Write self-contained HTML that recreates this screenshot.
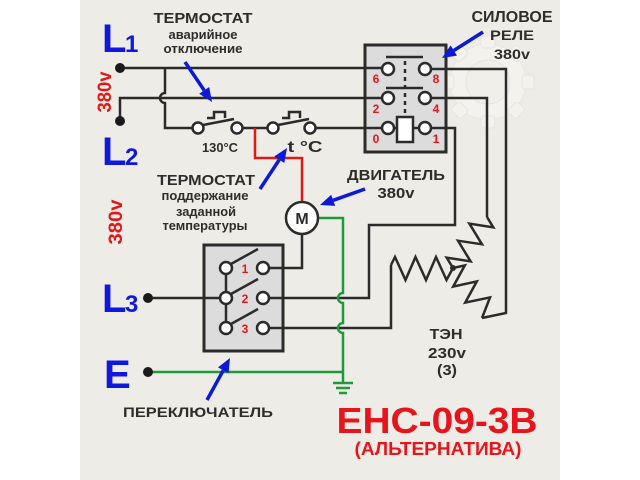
<!DOCTYPE html>
<html><head><meta charset="utf-8"><style>
html,body{margin:0;padding:0;background:#fff;}
svg{display:block;}
text{font-family:"Liberation Sans",Arial,sans-serif;font-weight:bold;}
</style></head><body>
<svg width="640" height="480" viewBox="0 0 640 480" xmlns="http://www.w3.org/2000/svg">
<rect x="0" y="0" width="640" height="480" fill="#ffffff"/>
<rect x="80" y="0" width="480" height="480" fill="#edece6"/>

<!-- gear watermark -->
<g fill="#f3f2ee" stroke="#e6e5de" stroke-width="1">
  <circle cx="488" cy="82" r="38"/>
  <g>
    <rect x="481" y="36" width="14" height="12" rx="3"/>
    <rect x="481" y="116" width="14" height="12" rx="3"/>
    <rect x="442" y="75" width="12" height="14" rx="3"/>
    <rect x="522" y="75" width="12" height="14" rx="3"/>
    <rect x="481" y="36" width="14" height="12" rx="3" transform="rotate(45 488 82)"/>
    <rect x="481" y="36" width="14" height="12" rx="3" transform="rotate(-45 488 82)"/>
    <rect x="481" y="36" width="14" height="12" rx="3" transform="rotate(135 488 82)"/>
    <rect x="481" y="36" width="14" height="12" rx="3" transform="rotate(-135 488 82)"/>
  </g>
  <circle cx="488" cy="82" r="22" fill="#f0efea"/>
</g>

<!-- black wires -->
<g fill="none" stroke="#2b2b2b" stroke-width="2.5" stroke-linejoin="miter">
  <path d="M120,68 H382"/>
  <path d="M120,121 V98 H382"/>
  <path d="M165,68 V93 A5,5 0 0 0 165,103 V128 H192"/>
  <path d="M243,128 H267"/>
  <path d="M316,128 H382"/>
  <!-- relay right side -->
  <path d="M431,69 H506 V313 L482,318"/>
  <path d="M431,98 H487 V217"/>
  <path d="M431,128 H455 V225 H369 V298 H269"/>
  <!-- switch -->
  <path d="M148,298 H220"/>
  <path d="M226,268 V328"/>
  <path d="M269,268 H302 V234"/>
  <path d="M269,328 H391 V265"/>
  <!-- heaters -->
  <path d="M391,265 L395,257 L405.5,280 L415.5,257 L426,280 L436,257 L446.5,280 L453,268"/>
  <path d="M487,217 L493.3,227.4 L469.4,223.6 L482,244.3 L458,240.7 L470.6,261.4 L446.7,257.6 L453,268"/>
  <path d="M453,268 L464.8,265.4 L453.2,286.6 L476.8,281.4 L465.2,302.6 L490,297.4 L482,318"/>
</g>
<circle cx="453" cy="268" r="3" fill="#2b2b2b"/>

<!-- red wire -->
<path d="M255,128 V158 H302 V202" fill="none" stroke="#e21818" stroke-width="2.5"/>

<!-- green wires -->
<g fill="none" stroke="#1e9a3c" stroke-width="2.5">
  <path d="M318,218 H343 V293 A5,5 0 0 0 343,303 V323 A5,5 0 0 0 343,333 V383"/>
  <path d="M148,372 H343"/>
  <path d="M333,383 H353 M336,388 H350 M339,393 H347"/>
</g>

<!-- terminal dots -->
<g fill="#1a1a1a">
  <circle cx="120" cy="68" r="5"/>
  <circle cx="120" cy="121" r="5"/>
  <circle cx="148" cy="298" r="5"/>
  <circle cx="148" cy="372" r="5"/>
</g>

<!-- thermostats -->
<g fill="none" stroke="#2b2b2b" stroke-width="2.5">
  <path d="M203,125 L234,119"/>
  <path d="M207,118 H214 V112 H225 V118"/>
  <path d="M278,125 L309,119"/>
  <path d="M282,118 H289 V112 H300 V118"/>
</g>
<g fill="#ffffff" stroke="#2b2b2b" stroke-width="2.5">
  <circle cx="198" cy="128" r="5.5"/>
  <circle cx="237" cy="128" r="5.5"/>
  <circle cx="273" cy="128" r="5.5"/>
  <circle cx="310" cy="128" r="5.5"/>
</g>

<!-- relay box -->
<rect x="365" y="45" width="81" height="107" fill="#dcdcdc" stroke="#2b2b2b" stroke-width="3"/>
<g fill="none" stroke="#2b2b2b" stroke-width="2.5">
  <path d="M365,68 H382 M365,98 H382 M365,128 H382"/>
  <path d="M386,57 H423 M386,88 H423"/>
  <path d="M405,61 V113" stroke-dasharray="4,4"/>
  <path d="M394,128 H397 M413,128 H419"/>
  <path d="M431,69 H446 M431,98 H446 M431,128 H446"/>
</g>
<rect x="397" y="117" width="16" height="25" fill="#ffffff" stroke="#2b2b2b" stroke-width="2.5"/>
<g fill="#ffffff" stroke="#2b2b2b" stroke-width="2.5">
  <circle cx="388" cy="69" r="6"/>
  <circle cx="425" cy="69" r="6"/>
  <circle cx="388" cy="98" r="6"/>
  <circle cx="425" cy="98" r="6"/>
  <circle cx="388" cy="128" r="6"/>
  <circle cx="425" cy="128" r="6"/>
</g>
<g fill="#e01818" font-size="12" text-anchor="middle">
  <text x="376" y="83">6</text>
  <text x="436" y="83">8</text>
  <text x="376" y="113">2</text>
  <text x="436" y="113">4</text>
  <text x="376" y="143">0</text>
  <text x="436" y="143">1</text>
</g>

<!-- switch box -->
<rect x="204" y="245" width="79" height="106" fill="#dcdcdc" stroke="#2b2b2b" stroke-width="3"/>
<g fill="none" stroke="#2b2b2b" stroke-width="2.5">
  <path d="M204,298 H220"/>
  <path d="M226,268 V328"/>
  <path d="M231,264 L258,249 M231,294 L258,279 M231,324 L258,309"/>
  <path d="M269,268 H283 M269,298 H283 M269,328 H283"/>
</g>
<g fill="#ffffff" stroke="#2b2b2b" stroke-width="2.5">
  <circle cx="226" cy="268" r="6"/>
  <circle cx="263" cy="268" r="6"/>
  <circle cx="226" cy="298" r="6"/>
  <circle cx="263" cy="298" r="6"/>
  <circle cx="226" cy="328" r="6"/>
  <circle cx="263" cy="328" r="6"/>
</g>
<g fill="#e01818" font-size="12" text-anchor="middle">
  <text x="245" y="273">1</text>
  <text x="245" y="303">2</text>
  <text x="245" y="333">3</text>
</g>

<!-- motor -->
<circle cx="302" cy="218" r="16" fill="#ffffff" stroke="#2b2b2b" stroke-width="2.5"/>
<text x="302" y="224" font-size="16" text-anchor="middle" fill="#2b2b2b">M</text>

<!-- blue arrows -->
<g stroke="#0c1ad8" stroke-width="3.5" fill="#0c1ad8">
  <line x1="185" y1="62" x2="204.2" y2="90.4"/>
  <polygon points="212,102 199.2,93.8 209.2,87" stroke="none"/>
  <line x1="483" y1="32" x2="453.8" y2="50.5"/>
  <polygon points="442,58 450.6,45.4 457,55.6" stroke="none"/>
  <line x1="260" y1="189" x2="279.3" y2="159.7"/>
  <polygon points="287,148 284.3,163 274.3,156.4" stroke="none"/>
  <line x1="365" y1="189" x2="333.2" y2="200.3"/>
  <polygon points="320,205 331.2,194.7 335.2,205.9" stroke="none"/>
  <line x1="207" y1="400" x2="223.3" y2="370.3"/>
  <polygon points="230,358 228.6,373.2 218,367.4" stroke="none"/>
</g>

<!-- L labels -->
<g fill="#1018e0">
  <text x="102" y="52" font-size="40">L</text><text x="125" y="52" font-size="24">1</text>
  <text x="102" y="165" font-size="40">L</text><text x="125" y="165" font-size="24">2</text>
  <text x="102" y="312" font-size="40">L</text><text x="125" y="312" font-size="24">3</text>
  <text x="104" y="388" font-size="40">E</text>
</g>

<!-- red rotated 380v -->
<g fill="#e21818" font-size="19">
  <text transform="translate(111,92) rotate(-90)" text-anchor="middle" textLength="41" lengthAdjust="spacingAndGlyphs">380v</text>
  <text transform="translate(122,222) rotate(-90)" text-anchor="middle" textLength="45" lengthAdjust="spacingAndGlyphs">380v</text>
</g>

<!-- dark labels -->
<g fill="#2d2d2d" text-anchor="middle">
  <text x="203" y="23" font-size="15" textLength="99" lengthAdjust="spacingAndGlyphs">ТЕРМОСТАТ</text>
  <text x="203" y="39" font-size="13" textLength="69" lengthAdjust="spacingAndGlyphs">аварийное</text>
  <text x="203" y="53" font-size="13" textLength="79" lengthAdjust="spacingAndGlyphs">отключение</text>

  <text x="512" y="22" font-size="16" textLength="81" lengthAdjust="spacingAndGlyphs">СИЛОВОЕ</text>
  <text x="512" y="40" font-size="14" textLength="44" lengthAdjust="spacingAndGlyphs">РЕЛЕ</text>
  <text x="512" y="59" font-size="14" textLength="36" lengthAdjust="spacingAndGlyphs">380v</text>

  <text x="220" y="152" font-size="13" textLength="36" lengthAdjust="spacingAndGlyphs">130°C</text>
  <text x="305" y="152" font-size="16" textLength="35" lengthAdjust="spacingAndGlyphs">t °C</text>

  <text x="206" y="185" font-size="15" textLength="98" lengthAdjust="spacingAndGlyphs">ТЕРМОСТАТ</text>
  <text x="205" y="200" font-size="13" textLength="87" lengthAdjust="spacingAndGlyphs">поддержание</text>
  <text x="206" y="216" font-size="13" textLength="60" lengthAdjust="spacingAndGlyphs">заданной</text>
  <text x="205" y="230" font-size="13" textLength="85" lengthAdjust="spacingAndGlyphs">температуры</text>

  <text x="396" y="180" font-size="15" textLength="98" lengthAdjust="spacingAndGlyphs">ДВИГАТЕЛЬ</text>
  <text x="396" y="198" font-size="15" textLength="37" lengthAdjust="spacingAndGlyphs">380v</text>

  <text x="446" y="339" font-size="15" textLength="33" lengthAdjust="spacingAndGlyphs">ТЭН</text>
  <text x="447" y="358" font-size="15" textLength="38" lengthAdjust="spacingAndGlyphs">230v</text>
  <text x="447" y="375" font-size="15" textLength="20" lengthAdjust="spacingAndGlyphs">(3)</text>

  <text x="198" y="417" font-size="14" textLength="150" lengthAdjust="spacingAndGlyphs">ПЕРЕКЛЮЧАТЕЛЬ</text>
</g>

<g fill="#e8141c" text-anchor="middle">
  <text x="437" y="433" font-size="36" textLength="201" lengthAdjust="spacingAndGlyphs">ЕНС-09-3В</text>
  <text x="438" y="455" font-size="18" textLength="167" lengthAdjust="spacingAndGlyphs">(АЛЬТЕРНАТИВА)</text>
</g>
</svg>
</body></html>
